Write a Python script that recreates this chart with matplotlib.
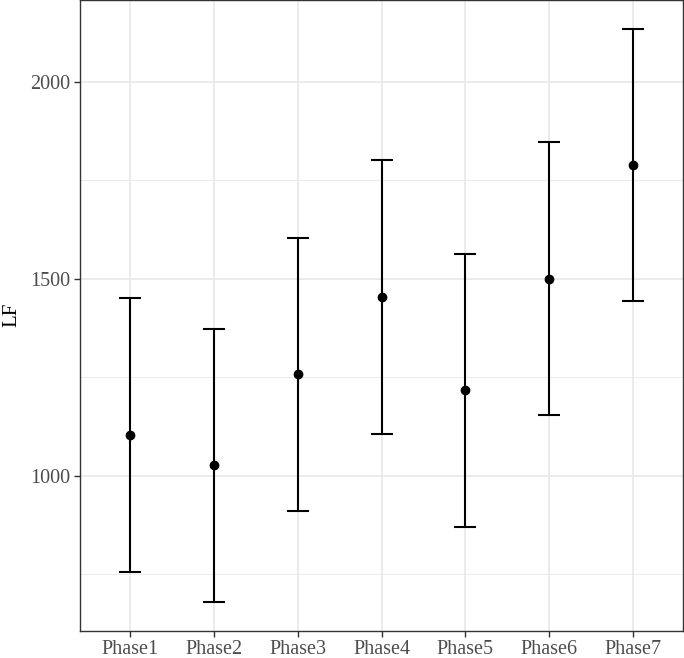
import numpy as np
from matplotlib import pyplot as plt
from matplotlib.ticker import MultipleLocator

plt.rcParams['font.family'] = ['Liberation Serif', 'DejaVu Serif']

phases = ['Phase1', 'Phase2', 'Phase3', 'Phase4', 'Phase5', 'Phase6', 'Phase7']
means = [1104, 1028, 1259, 1454, 1218, 1500, 1789]
upper = [1452, 1373, 1604, 1802, 1563, 1848, 2135]
lower = [756, 680, 911, 1107, 871, 1155, 1444]

fig = plt.figure(figsize=(6.84, 6.58), dpi=100)
ax = fig.add_axes([80 / 684, 27.5 / 658, 603 / 684, 630.5 / 658])

x = np.arange(len(phases))
means = np.array(means)
yerr = [means - np.array(lower), np.array(upper) - means]
ax.errorbar(x, means, yerr=yerr, fmt='o', color='black', ecolor='black',
            elinewidth=1.5, capsize=8, capthick=1.5, markersize=6, zorder=3)

ax.set_xlim(-0.6, len(phases) - 0.4)
ax.set_ylim(607, 2208)
ax.set_xticks(x)
ax.set_xticklabels(phases)
ax.yaxis.set_major_locator(MultipleLocator(500))
ax.yaxis.set_minor_locator(MultipleLocator(250))
ax.grid(which='major', color='#EBEBEB', linewidth=1.4, zorder=0)
ax.grid(which='minor', axis='y', color='#EBEBEB', linewidth=0.7, zorder=0)
ax.set_axisbelow(True)

for s in ax.spines.values():
    s.set_color('#333333')
    s.set_linewidth(1.0)

ax.tick_params(which='major', length=4, width=1.0, color='#333333',
               labelsize=14.5, labelcolor='#4D4D4D', pad=3)
ax.tick_params(which='minor', length=0)
ax.set_ylabel('LF', fontsize=15, color='black', labelpad=6)

plt.savefig('out.png', dpi=100)
